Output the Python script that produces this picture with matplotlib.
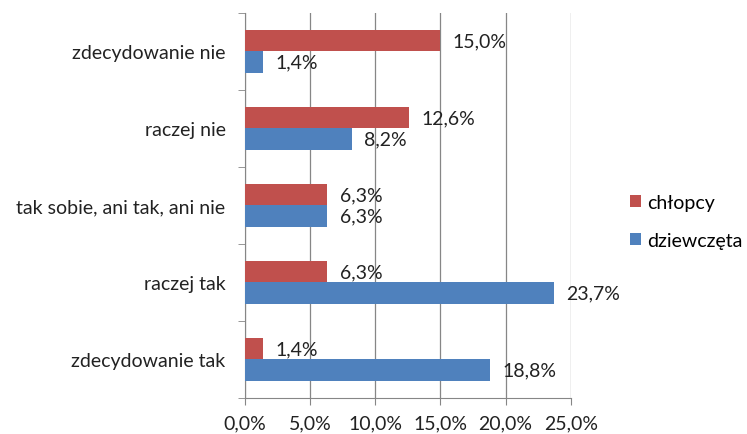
import matplotlib.pyplot as plt
import numpy as np
from matplotlib.ticker import FuncFormatter, FixedLocator

categories = ["zdecydowanie tak", "raczej tak", "tak sobie, ani tak, ani nie",
              "raczej nie", "zdecydowanie nie"]
chlopcy = [1.4, 6.3, 6.3, 12.6, 15.0]
dziewczeta = [18.8, 23.7, 6.3, 8.2, 1.4]
series_names = ["chłopcy", "dziewczęta"]
x_ticks = [0, 5, 10, 15, 20, 25]

RED = "#C0504D"
BLUE = "#4F81BD"
FS = 14

plt.rcParams["font.family"] = ["Lato", "DejaVu Sans"]
plt.rcParams["font.size"] = FS

fig = plt.figure(figsize=(7.47, 4.35), dpi=100)
ax = fig.add_axes([0.328, 0.083, 0.436, 0.885])

y = np.arange(len(categories))
h = 0.28
ax.barh(y + h / 2, chlopcy, height=h, color=RED, label=series_names[0], zorder=3)
ax.barh(y - h / 2, dziewczeta, height=h, color=BLUE, label=series_names[1], zorder=3)

def pct(v):
    return f"{v:.1f}%".replace(".", ",")

for yi, v in zip(y + h / 2, chlopcy):
    ax.annotate(pct(v), (v, yi), xytext=(9, 0), textcoords="offset points",
                va="center", ha="left", fontsize=FS, color="#222222")
for yi, v in zip(y - h / 2, dziewczeta):
    ax.annotate(pct(v), (v, yi), xytext=(9, 0), textcoords="offset points",
                va="center", ha="left", fontsize=FS, color="#222222")

ax.set_xlim(0, 25)
ax.set_ylim(-0.5, len(categories) - 0.5)
ax.set_xticks(x_ticks)
ax.xaxis.set_major_formatter(FuncFormatter(lambda v, _: pct(v)))
ax.set_yticks(y)
ax.set_yticklabels(categories)
ax.yaxis.set_minor_locator(FixedLocator(np.arange(-0.5, len(categories), 1.0)))
ax.tick_params(axis="y", which="major", length=0, pad=14)
ax.tick_params(axis="y", which="minor", length=5, color="#868686")
ax.tick_params(axis="x", length=5, color="#868686", pad=7)
ax.tick_params(labelsize=FS, labelcolor="#222222")

ax.grid(axis="x", color="#868686", linewidth=0.9, zorder=0)
for side in ["top", "right"]:
    ax.spines[side].set_visible(False)
ax.spines["left"].set_color("#868686")
ax.spines["bottom"].set_color("#868686")

handles, labels = ax.get_legend_handles_labels()
fig.legend(handles, labels, loc="center left", bbox_to_anchor=(0.82, 0.489),
           frameon=False, fontsize=FS, handlelength=0.55, handleheight=0.55,
           handletextpad=0.35, labelspacing=1.1)

fig.savefig("out.png", dpi=100)
